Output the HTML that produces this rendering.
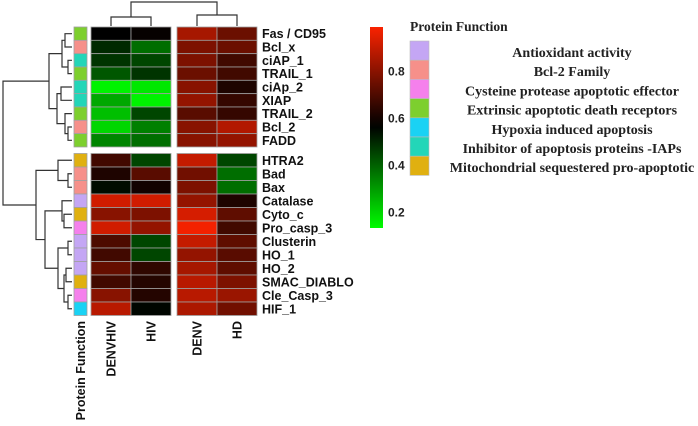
<!DOCTYPE html>
<html><head><meta charset="utf-8"><style>
html,body{margin:0;padding:0;background:#fff;}
svg{display:block;}
.lbl{font-family:"Liberation Sans",sans-serif;font-weight:bold;font-size:12.5px;fill:#111;}
.leg{font-family:"Liberation Serif",serif;font-weight:bold;font-size:14px;fill:#222;}
.legt{font-family:"Liberation Serif",serif;font-weight:bold;font-size:13.5px;fill:#222;}
.tick{font-family:"Liberation Sans",sans-serif;font-weight:bold;font-size:12px;fill:#222;}
</style></head><body>
<svg id="chart" width="698" height="426" viewBox="0 0 698 426" xmlns="http://www.w3.org/2000/svg">
<g id="cells"></g>
<g id="annot"></g>
<g id="dendro" stroke="#333" stroke-width="1.2" fill="none"></g>
<g id="labels"></g>
<g id="cbar"></g>
<g id="legend"></g>
</svg>
<script>
const rowNames=["Fas / CD95","Bcl_x","ciAP_1","TRAIL_1","ciAp_2","XIAP","TRAIL_2","Bcl_2","FADD","HTRA2","Bad","Bax","Catalase","Cyto_c","Pro_casp_3","Clusterin","HO_1","HO_2","SMAC_DIABLO","Cle_Casp_3","HIF_1"];
const colNames=["DENVHIV","HIV","DENV","HD"];
const denvhiv=[0.57,0.50,0.48,0.42,0.15,0.28,0.24,0.20,0.34,0.68,0.62,0.55,0.92,0.80,0.92,0.70,0.68,0.74,0.68,0.80,0.88];
const hiv=[0.58,0.38,0.45,0.48,0.17,0.15,0.45,0.35,0.38,0.45,0.72,0.60,0.92,0.78,0.82,0.45,0.45,0.65,0.63,0.63,0.56];
const denv=[0.85,0.78,0.78,0.75,0.80,0.82,0.72,0.80,0.80,0.90,0.76,0.78,0.82,0.93,0.98,0.90,0.82,0.85,0.88,0.88,0.86];
const hd=[0.75,0.75,0.68,0.68,0.62,0.66,0.66,0.87,0.82,0.45,0.38,0.38,0.62,0.73,0.68,0.73,0.72,0.73,0.78,0.83,0.76];
const funcIdx=[3,1,5,3,5,5,3,1,3,6,1,1,0,6,2,0,0,0,6,2,4];
const funcNames=["Antioxidant activity","Bcl-2 Family","Cysteine protease apoptotic effector","Extrinsic apoptotic death receptors","Hypoxia induced apoptosis","Inhibitor of apoptosis proteins -IAPs","Mitochondrial sequestered pro-apoptotic"];
const funcColors=["#c4a6f4","#f6908a","#f580ec","#7dcf2e","#1ad2f4","#23d6b8","#e0b010"];
const cbTicks=[0.8,0.6,0.4,0.2];
const rowTree=[[[[0,1,65],[2,3,68],62],[[4,5,61],[6,[7,8,68],65],57],49],
 [[9,[10,11,68],58],[[12,[13,14,64],62],[[15,16,68],[[17,18,66],[19,20,68],64],58],45],36],3];
const colTree=[[0,1,17],[2,3,15],2];

const NS="http://www.w3.org/2000/svg";
function mk(tag,attrs,parent){const e=document.createElementNS(NS,tag);for(const k in attrs)e.setAttribute(k,attrs[k]);parent.appendChild(e);return e;}
function rowY(i){return i<9?27+13.33*i:153.5+13.5*(i-9);}
function rowH(i){return i<9?13.33:13.5;}
const colX=[91,131,177,217], colW=40;
function color(v){
  const mid=0.57,lo=0.13,hi=1.0;
  if(v<mid){const t=Math.min(1,(mid-v)/(mid-lo));return `rgb(0,${Math.round(255*t)},0)`;}
  const t=Math.min(1,(v-mid)/(hi-mid));return `rgb(${Math.round(255*t)},${Math.round(35*t)},0)`;
}
const cells=document.getElementById('cells');
const series=[denvhiv,hiv,denv,hd];
series.forEach((s,c)=>{s.forEach((v,r)=>{
  const e=mk('rect',{x:colX[c],y:rowY(r),width:colW,height:rowH(r),fill:color(v),stroke:'#a0a0a0','stroke-width':0.8},cells);
  
  
});});
const annot=document.getElementById('annot');
funcIdx.forEach((f,r)=>{
  const e=mk('rect',{x:74,y:rowY(r),width:13,height:rowH(r),fill:funcColors[f],stroke:'#a0a0a0','stroke-width':0.8},annot);
  
  
});
const dendro=document.getElementById('dendro');
function drawRow(n){
  if(typeof n==='number') return {y:rowY(n)+rowH(n)/2,x:72};
  const a=drawRow(n[0]),b=drawRow(n[1]),x=n[2];
  const p=mk('path',{d:`M${a.x},${a.y}H${x}V${b.y}H${b.x}`},dendro);
  
  
  return {y:(a.y+b.y)/2,x:x};
}
drawRow(rowTree);
function drawCol(n){
  if(typeof n==='number') return {x:colX[n]+colW/2,y:26};
  const a=drawCol(n[0]),b=drawCol(n[1]),y=n[2];
  const p=mk('path',{d:`M${a.x},${a.y}V${y}H${b.x}V${b.y}`},dendro);
  
  
  return {x:(a.x+b.x)/2,y:y};
}
drawCol(colTree);
const labels=document.getElementById('labels');
rowNames.forEach((n,r)=>{
  const t=mk('text',{x:262,y:rowY(r)+rowH(r)/2+4.5,class:'lbl'},labels);t.textContent=n;
  
  
});
colNames.forEach((n,c)=>{
  const x=colX[c]+colW/2+4.5;
  const t=mk('text',{x:x,y:321,class:'lbl','text-anchor':'end',transform:`rotate(-90 ${x} 321)`},labels);t.textContent=n;
  
  
});
const pf=mk('text',{x:85,y:321,class:'lbl','text-anchor':'end',transform:'rotate(-90 85 321)'},labels);pf.textContent='Protein Function';


const cbar=document.getElementById('cbar');
const cbTop=27,cbBot=228,vTop=0.99,vBot=0.135;
function cbY(v){return cbTop+(vTop-v)/(vTop-vBot)*(cbBot-cbTop);}
const defs=mk('defs',{},cbar);
const g=mk('linearGradient',{id:'cg',x1:0,y1:0,x2:0,y2:1},defs);
for(let i=0;i<=20;i++){const v=vTop-(vTop-vBot)*i/20;mk('stop',{offset:i/20,'stop-color':color(v)},g);}
const cb=mk('rect',{x:370,y:cbTop,width:13,height:cbBot-cbTop,fill:'url(#cg)'},cbar);


cbTicks.forEach(v=>{const t=mk('text',{x:388,y:cbY(v)+4,class:'tick'},cbar);t.textContent=v.toFixed(1);
  
  });
const legend=document.getElementById('legend');
const lt=mk('text',{x:410,y:31,class:'legt'},legend);lt.textContent='Protein Function';


funcNames.forEach((n,i)=>{
  const r=mk('rect',{x:410,y:41+i*19.2,width:19,height:19.2,fill:funcColors[i],stroke:'#bbb','stroke-width':0.6},legend);
  
  
  const t=mk('text',{x:572,y:57+i*19.2,class:'leg','text-anchor':'middle'},legend);t.textContent=n;
  
  
});
</script>
</body></html>
